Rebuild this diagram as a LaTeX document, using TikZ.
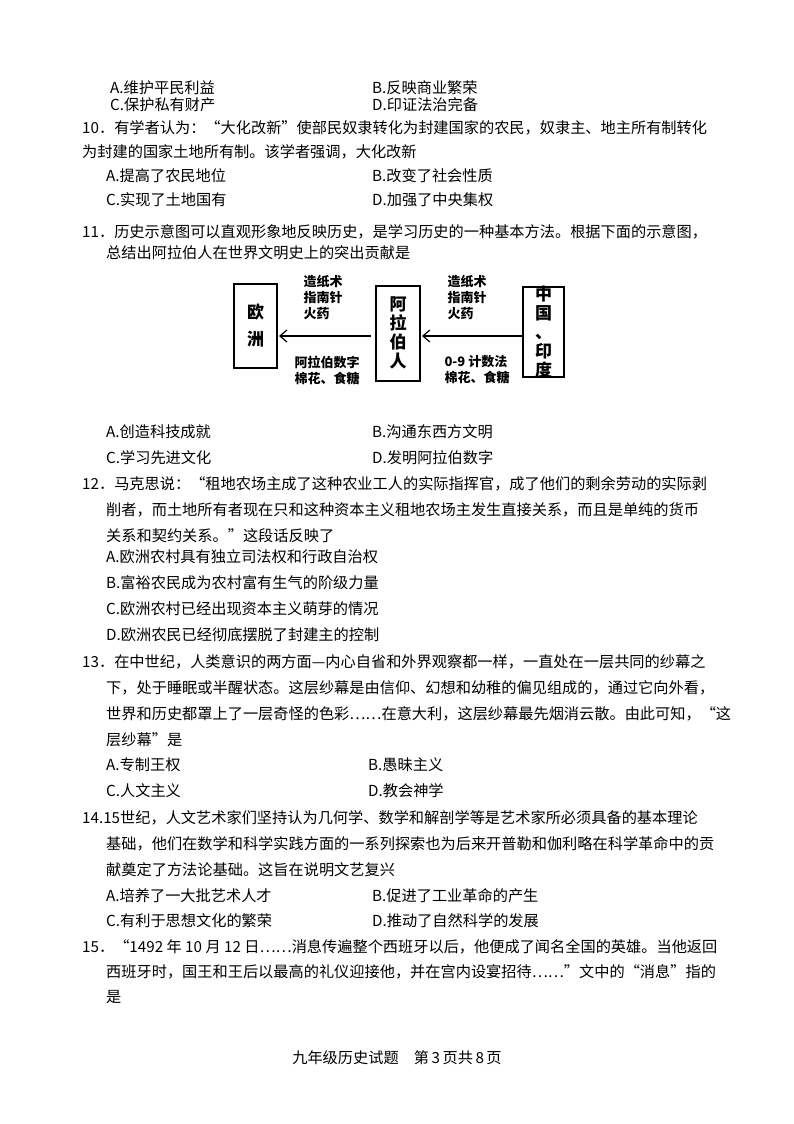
\documentclass[tikz,border=0pt]{standalone}
\usepackage{fontspec}
\setmainfont{Noto Sans CJK SC}
\usetikzlibrary{arrows.meta}
\begin{document}
\begin{tikzpicture}[x=1pt,y=-1pt,
  t/.style={anchor=west,inner sep=0pt,font=\fontsize{15.2}{17}\selectfont},
  s/.style={anchor=center,inner sep=0pt,font=\fontsize{13}{16}\bfseries\selectfont,align=left},
  bt/.style={anchor=center,inner sep=0pt,font=\fontsize{17}{19}\bfseries\selectfont,align=center},
  bx/.style={draw,line width=1.2pt},
  arr/.style={line width=1.2pt,-{Straight Barb[length=7pt,width=12pt]}}]
\useasboundingbox (0,0) rectangle (794,1124);
\node[t] (a9) at (110,88) {A.维护平民利益};
\node[t] (b9) at (372,88) {B.反映商业繁荣};
\node[t] (c9) at (110,105) {C.保护私有财产};
\node[t] (d9) at (372,105) {D.印证法治完备};
\node[t] (q10a) at (82,128) {10．有学者认为：“大化改新”使部民奴隶转化为封建国家的农民，奴隶主、地主所有制转化};
\node[t] (q10b) at (82,152) {为封建的国家土地所有制。该学者强调，大化改新};
\node[t] (a10) at (106,176) {A.提高了农民地位};
\node[t] (b10) at (372,176) {B.改变了社会性质};
\node[t] (c10) at (106,200) {C.实现了土地国有};
\node[t] (d10) at (372,200) {D.加强了中央集权};
\node[t] (q11a) at (82,232) {11．历史示意图可以直观形象地反映历史，是学习历史的一种基本方法。根据下面的示意图，};
\node[t] (q11b) at (106,253) {总结出阿拉伯人在世界文明史上的突出贡献是};
% diagram
\draw[bx] (234,284) rectangle (277,368);
\node[bt] (eu) at (255.5,326) {欧\\[8pt]洲};
\draw[bx] (376,286) rectangle (420,381);
\node[bt] (ar) at (398,333) {阿\\拉\\伯\\人};
\draw[bx] (523,287) rectangle (564,377);
\node[bt] (cn) at (543.5,332) {中\\国\\、\\印\\度};
\coordinate (eR) at (279,336);
\coordinate (aL) at (371,336);
\coordinate (aR) at (422,336);
\coordinate (cL) at (523,336);
\draw[arr] (aL) -- (eR);
\draw[arr] (cL) -- (aR);
\node[s] (l1) at (323,297) {造纸术\\指南针\\火药};
\node[s] (l2) at (467,297) {造纸术\\指南针\\火药};
\node[s] (l3) at (327,370) {阿拉伯数字\\棉花、食糖};
\node[s] (l4) at (477,370) {0-9 计数法\\棉花、食糖};
\node[t] (a11) at (106,432) {A.创造科技成就};
\node[t] (b11) at (372,432) {B.沟通东西方文明};
\node[t] (c11) at (106,458) {C.学习先进文化};
\node[t] (d11) at (372,458) {D.发明阿拉伯数字};
\node[t] (q12a) at (82,484) {12．马克思说：“租地农场主成了这种农业工人的实际指挥官，成了他们的剩余劳动的实际剥};
\node[t] (q12b) at (106,510) {削者，而土地所有者现在只和这种资本主义租地农场主发生直接关系，而且是单纯的货币};
\node[t] (q12c) at (106,536) {关系和契约关系。”这段话反映了};
\node[t] (a12) at (106,557) {A.欧洲农村具有独立司法权和行政自治权};
\node[t] (b12) at (106,583) {B.富裕农民成为农村富有生气的阶级力量};
\node[t] (c12) at (106,609) {C.欧洲农村已经出现资本主义萌芽的情况};
\node[t] (d12) at (106,635) {D.欧洲农民已经彻底摆脱了封建主的控制};
\node[t] (q13a) at (82,662) {13．在中世纪，人类意识的两方面—内心自省和外界观察都一样，一直处在一层共同的纱幕之};
\node[t] (q13b) at (106,688) {下，处于睡眠或半醒状态。这层纱幕是由信仰、幻想和幼稚的偏见组成的，通过它向外看，};
\node[t] (q13c) at (106,714) {世界和历史都罩上了一层奇怪的色彩……在意大利，这层纱幕最先烟消云散。由此可知，“这};
\node[t] (q13d) at (106,740) {层纱幕”是};
\node[t] (a13) at (106,765) {A.专制王权};
\node[t] (b13) at (368,765) {B.愚昧主义};
\node[t] (c13) at (106,791) {C.人文主义};
\node[t] (d13) at (368,791) {D.教会神学};
\node[t] (q14a) at (82,818) {14.15世纪，人文艺术家们坚持认为几何学、数学和解剖学等是艺术家所必须具备的基本理论};
\node[t] (q14b) at (106,844) {基础，他们在数学和科学实践方面的一系列探索也为后来开普勒和伽利略在科学革命中的贡};
\node[t] (q14c) at (106,870) {献奠定了方法论基础。这旨在说明文艺复兴};
\node[t] (a14) at (106,896) {A.培养了一大批艺术人才};
\node[t] (b14) at (372,896) {B.促进了工业革命的产生};
\node[t] (c14) at (106,921) {C.有利于思想文化的繁荣};
\node[t] (d14) at (372,921) {D.推动了自然科学的发展};
\node[t] (q15a) at (82,947) {15．“1492 年 10 月 12 日……消息传遍整个西班牙以后，他便成了闻名全国的英雄。当他返回};
\node[t] (q15b) at (106,972) {西班牙时，国王和王后以最高的礼仪迎接他，并在宫内设宴招待……”文中的“消息”指的};
\node[t] (q15c) at (106,997) {是};
\node[anchor=center,inner sep=0pt,font=\fontsize{15.2}{17}\selectfont] (ft) at (397,1058) {九年级历史试题\quad 第\,3\,页共\,8\,页};
\end{tikzpicture}
\end{document}
